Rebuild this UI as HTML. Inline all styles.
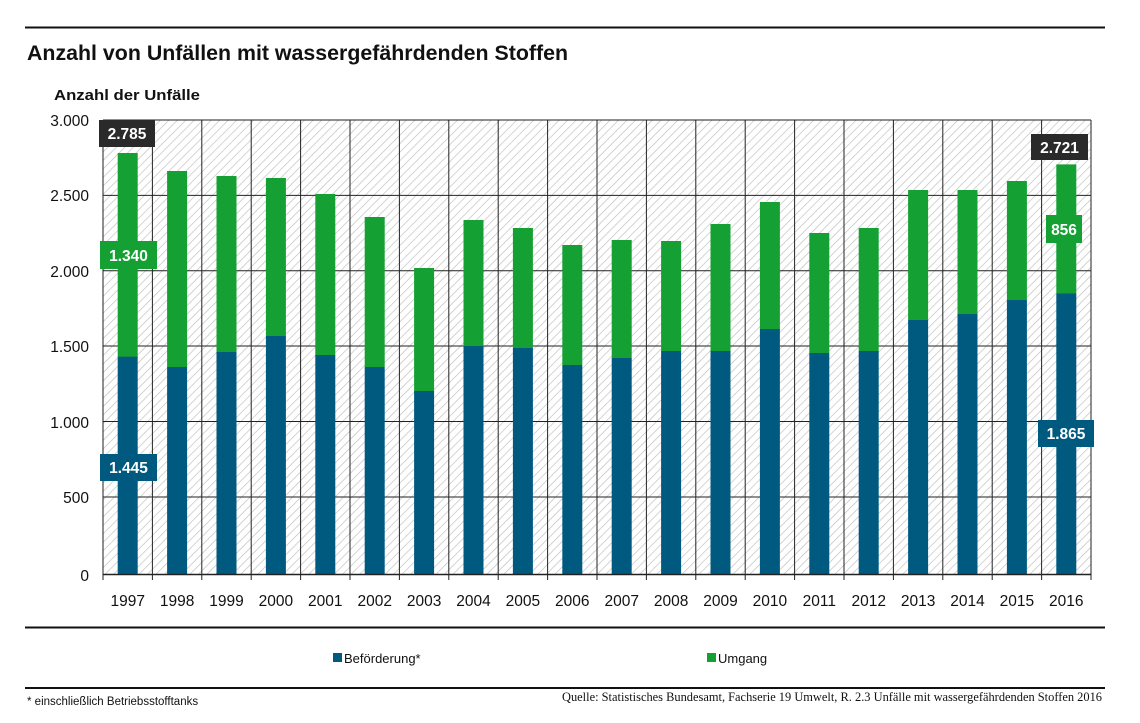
<!DOCTYPE html>
<html><head><meta charset="utf-8"><style>
html,body{margin:0;padding:0;background:#fff}
svg{display:block}
text{font-family:"Liberation Sans",sans-serif}
text.serif{font-family:"Liberation Serif",serif}
</style></head><body>
<svg width="1140" height="723" viewBox="0 0 1140 723" xmlns="http://www.w3.org/2000/svg">
<defs>
<pattern id="h" width="6" height="6" patternUnits="userSpaceOnUse" patternTransform="rotate(45)">
<rect width="6" height="6" fill="#fff"/>
<line x1="0" y1="0" x2="0" y2="6" stroke="#bdbdbd" stroke-width="1.3"/>
</pattern>
</defs>
<line x1="25" y1="27.5" x2="1105" y2="27.5" stroke="#111" stroke-width="2"/>
<text x="27" y="60" font-size="21" font-weight="bold" fill="#111" textLength="541" lengthAdjust="spacingAndGlyphs">Anzahl von Unfällen mit wassergefährdenden Stoffen</text>
<text x="54" y="100" font-size="15" font-weight="bold" fill="#111" textLength="146" lengthAdjust="spacingAndGlyphs">Anzahl der Unfälle</text>

<rect x="103" y="120" width="988" height="454.5" fill="url(#h)"/>
<g stroke="#222" stroke-width="1">
<line x1="103" y1="120" x2="1091" y2="120"/>
<line x1="103" y1="195.4" x2="1091" y2="195.4"/>
<line x1="103" y1="270.7" x2="1091" y2="270.7"/>
<line x1="103" y1="346" x2="1091" y2="346"/>
<line x1="103" y1="421.5" x2="1091" y2="421.5"/>
<line x1="103" y1="497" x2="1091" y2="497"/>
<line x1="103" y1="120" x2="103" y2="580"/><line x1="152.4" y1="120" x2="152.4" y2="580"/><line x1="201.8" y1="120" x2="201.8" y2="580"/><line x1="251.2" y1="120" x2="251.2" y2="580"/><line x1="300.6" y1="120" x2="300.6" y2="580"/><line x1="350" y1="120" x2="350" y2="580"/><line x1="399.4" y1="120" x2="399.4" y2="580"/><line x1="448.8" y1="120" x2="448.8" y2="580"/><line x1="498.2" y1="120" x2="498.2" y2="580"/><line x1="547.6" y1="120" x2="547.6" y2="580"/><line x1="597" y1="120" x2="597" y2="580"/><line x1="646.4" y1="120" x2="646.4" y2="580"/><line x1="695.8" y1="120" x2="695.8" y2="580"/><line x1="745.2" y1="120" x2="745.2" y2="580"/><line x1="794.6" y1="120" x2="794.6" y2="580"/><line x1="844" y1="120" x2="844" y2="580"/><line x1="893.4" y1="120" x2="893.4" y2="580"/><line x1="942.8" y1="120" x2="942.8" y2="580"/><line x1="992.2" y1="120" x2="992.2" y2="580"/><line x1="1041.6" y1="120" x2="1041.6" y2="580"/><line x1="1091" y1="120" x2="1091" y2="580"/>
</g>

<g fill="#14a032">
<rect x="117.7" y="153" width="20" height="204"/>
<rect x="167.1" y="171" width="20" height="196"/>
<rect x="216.5" y="176" width="20" height="176"/>
<rect x="265.9" y="178" width="20" height="158"/>
<rect x="315.3" y="194" width="20" height="161"/>
<rect x="364.7" y="217" width="20" height="150"/>
<rect x="414.1" y="268" width="20" height="123"/>
<rect x="463.5" y="220" width="20" height="126"/>
<rect x="512.9" y="228" width="20" height="120"/>
<rect x="562.3" y="245" width="20" height="120"/>
<rect x="611.7" y="240" width="20" height="118"/>
<rect x="661.1" y="241" width="20" height="110"/>
<rect x="710.5" y="224" width="20" height="127"/>
<rect x="759.9" y="202" width="20" height="127"/>
<rect x="809.3" y="233" width="20" height="120"/>
<rect x="858.7" y="228" width="20" height="123"/>
<rect x="908.1" y="190" width="20" height="130"/>
<rect x="957.5" y="190" width="20" height="124"/>
<rect x="1006.9" y="181" width="20" height="119"/>
<rect x="1056.3" y="164.4" width="20" height="129.1"/>
</g>
<g fill="#005a80">
<rect x="117.7" y="356.7" width="20" height="217.8"/>
<rect x="167.1" y="367" width="20" height="207.5"/>
<rect x="216.5" y="352" width="20" height="222.5"/>
<rect x="265.9" y="336" width="20" height="238.5"/>
<rect x="315.3" y="355" width="20" height="219.5"/>
<rect x="364.7" y="367" width="20" height="207.5"/>
<rect x="414.1" y="391" width="20" height="183.5"/>
<rect x="463.5" y="346" width="20" height="228.5"/>
<rect x="512.9" y="348" width="20" height="226.5"/>
<rect x="562.3" y="365" width="20" height="209.5"/>
<rect x="611.7" y="358" width="20" height="216.5"/>
<rect x="661.1" y="351" width="20" height="223.5"/>
<rect x="710.5" y="351" width="20" height="223.5"/>
<rect x="759.9" y="329" width="20" height="245.5"/>
<rect x="809.3" y="353" width="20" height="221.5"/>
<rect x="858.7" y="351" width="20" height="223.5"/>
<rect x="908.1" y="320" width="20" height="254.5"/>
<rect x="957.5" y="314" width="20" height="260.5"/>
<rect x="1006.9" y="300" width="20" height="274.5"/>
<rect x="1056.3" y="293.5" width="20" height="281"/>
</g>
<line x1="103" y1="574.5" x2="1091" y2="574.5" stroke="#222" stroke-width="1.5"/>

<g font-size="15.5" fill="#111" text-anchor="end">
<text x="89" y="126">3.000</text>
<text x="89" y="201">2.500</text>
<text x="89" y="277">2.000</text>
<text x="89" y="352">1.500</text>
<text x="89" y="428">1.000</text>
<text x="89" y="503">500</text>
<text x="89" y="581">0</text>
</g>
<g font-size="15.5" fill="#111" text-anchor="middle">
<text x="127.7" y="606">1997</text><text x="177.1" y="606">1998</text><text x="226.5" y="606">1999</text><text x="275.9" y="606">2000</text><text x="325.3" y="606">2001</text><text x="374.7" y="606">2002</text><text x="424.1" y="606">2003</text><text x="473.5" y="606">2004</text><text x="522.9" y="606">2005</text><text x="572.3" y="606">2006</text><text x="621.7" y="606">2007</text><text x="671.1" y="606">2008</text><text x="720.5" y="606">2009</text><text x="769.9" y="606">2010</text><text x="819.3" y="606">2011</text><text x="868.7" y="606">2012</text><text x="918.1" y="606">2013</text><text x="967.5" y="606">2014</text><text x="1016.9" y="606">2015</text><text x="1066.3" y="606">2016</text>
</g>

<g font-size="15.5" font-weight="bold" fill="#fff" text-anchor="middle">
<rect x="99" y="120" width="56" height="27" fill="#2a2a2a"/><text x="127" y="139">2.785</text>
<rect x="100" y="241" width="57" height="28" fill="#14a032"/><text x="128.5" y="261">1.340</text>
<rect x="100" y="454" width="57" height="27" fill="#005a80"/><text x="128.5" y="473">1.445</text>
<rect x="1031" y="134" width="57" height="26" fill="#2a2a2a"/><text x="1059.5" y="153">2.721</text>
<rect x="1046" y="215" width="36" height="28" fill="#14a032"/><text x="1064" y="235">856</text>
<rect x="1038" y="420" width="56" height="27" fill="#005a80"/><text x="1066" y="439">1.865</text>
</g>

<line x1="25" y1="627.5" x2="1105" y2="627.5" stroke="#111" stroke-width="2"/>
<rect x="333" y="653" width="9" height="9" fill="#005a80"/>
<text x="344" y="663" font-size="13" fill="#111">Beförderung*</text>
<rect x="707" y="653" width="9" height="9" fill="#14a032"/>
<text x="718" y="663" font-size="13" fill="#111">Umgang</text>
<line x1="25" y1="688" x2="1105" y2="688" stroke="#111" stroke-width="2"/>
<text x="27" y="705" font-size="11.5" fill="#111">* einschließlich Betriebsstofftanks</text>
<text class="serif" x="562" y="701" font-size="12.5" fill="#111" textLength="540" lengthAdjust="spacingAndGlyphs">Quelle: Statistisches Bundesamt, Fachserie 19 Umwelt, R. 2.3 Unfälle mit wassergefährdenden Stoffen 2016</text>
</svg>
</body></html>
